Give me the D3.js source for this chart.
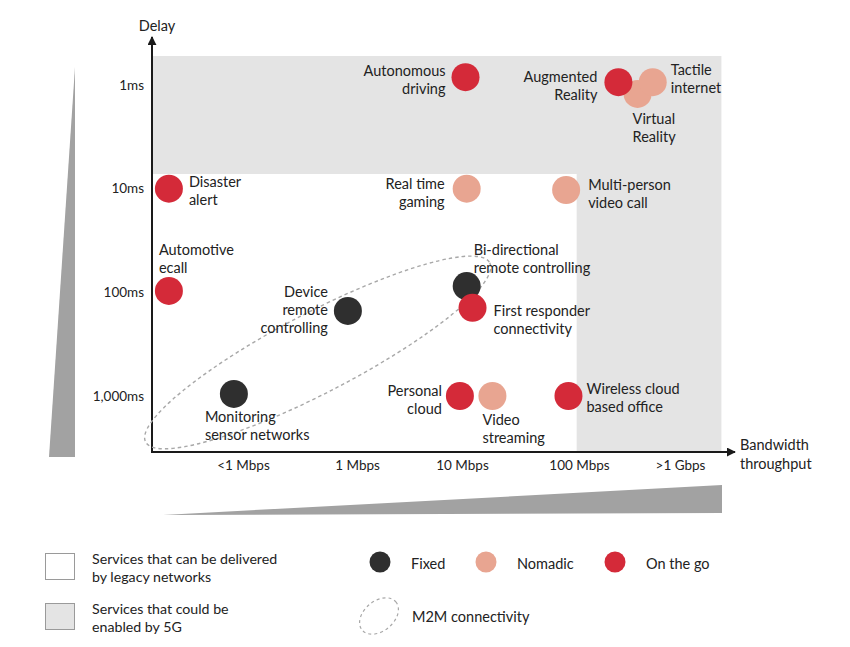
<!DOCTYPE html>
<html>
<head>
<meta charset="utf-8">
<script src="https://cdn.jsdelivr.net/npm/d3@7"></script>
<style>
  html, body { margin: 0; padding: 0; background: #ffffff; }
  svg { display: block; }
  text { font-family: Lato, "Open Sans", sans-serif; fill: #222222; }
</style>
</head>
<body>
<svg id="chart" width="850" height="647"></svg>
<script>
// ---------- DATA ----------
const services = [
  "Disaster alert", "Automotive ecall", "Autonomous driving",
  "Virtual Reality", "Tactile internet", "Augmented Reality",
  "Real time gaming", "Multi-person video call",
  "Device remote controlling", "Bi-directional remote controlling",
  "First responder connectivity", "Monitoring sensor networks",
  "Personal cloud", "Video streaming", "Wireless cloud based office"
];
// bandwidth position on the category axis (0 = <1 Mbps ... 4 = >1 Gbps)
const bandwidth = [-0.65, -0.65, 2.03, 3.58, 3.73, 3.39, 2.04, 2.89, 0.92, 2.04, 2.09, -0.08, 1.98, 2.26, 2.91];
// delay in ms
const delayMs = [10, 97, 0.84, 1.22, 0.94, 0.94, 10, 10.3, 151, 87, 141, 955, 1000, 1000, 1000];
const mobility = [
  "On the go", "On the go", "On the go",
  "Nomadic", "Nomadic", "On the go",
  "Nomadic", "Nomadic",
  "Fixed", "Fixed",
  "On the go", "Fixed",
  "On the go", "Nomadic", "On the go"
];
const bandwidthTicks = ["<1 Mbps", "1 Mbps", "10 Mbps", "100 Mbps", ">1 Gbps"];
const delayTicks = [1, 10, 100, 1000];
const mobilityTypes = ["Fixed", "Nomadic", "On the go"];
const regionLegend = ["Services that can be delivered|by legacy networks", "Services that could be|enabled by 5G"];
// 5G-enabled zone (in data units)
const zone5G = { delayBelow: 7.2, delayTop: 0.525, bandwidthAbove: 2.98, bandwidthRight: 4.41 };
// M2M group centre (data units)
const m2mCentre = { bandwidth: 0.655, delay: 380 };

// ---------- LAYOUT / STYLE ----------
const colors = { "Fixed": "#2f2f2f", "Nomadic": "#e8a591", "On the go": "#d42a39" };
const labelLayout = {
  "Disaster alert": { lines: ["Disaster", "alert"], anchor: "start", dx: 20, dy: -7 },
  "Automotive ecall": { lines: ["Automotive", "ecall"], anchor: "start", dx: -10, dy: -41 },
  "Autonomous driving": { lines: ["Autonomous", "driving"], anchor: "end", dx: -20, dy: -7 },
  "Augmented Reality": { lines: ["Augmented", "Reality"], anchor: "end", dx: -21, dy: -6 },
  "Tactile internet": { lines: ["Tactile", "internet"], anchor: "start", dx: 18, dy: -13 },
  "Virtual Reality": { lines: ["Virtual", "Reality"], anchor: "start", dx: -5, dy: 25 },
  "Real time gaming": { lines: ["Real time", "gaming"], anchor: "end", dx: -22, dy: -5 },
  "Multi-person video call": { lines: ["Multi-person", "video call"], anchor: "start", dx: 22, dy: -5 },
  "Device remote controlling": { lines: ["Device", "remote", "controlling"], anchor: "end", dx: -20, dy: -19 },
  "Bi-directional remote controlling": { lines: ["Bi-directional", "remote controlling"], anchor: "start", dx: 7, dy: -37 },
  "First responder connectivity": { lines: ["First responder", "connectivity"], anchor: "start", dx: 21, dy: 3 },
  "Monitoring sensor networks": { lines: ["Monitoring", "sensor networks"], anchor: "start", dx: -29, dy: 23 },
  "Personal cloud": { lines: ["Personal", "cloud"], anchor: "end", dx: -18, dy: -6 },
  "Video streaming": { lines: ["Video", "streaming"], anchor: "start", dx: -10, dy: 23 },
  "Wireless cloud based office": { lines: ["Wireless cloud", "based office"], anchor: "start", dx: 18, dy: -8 }
};
const lineH = 18;
const axisX = 152, axisY = 452;

const svg = d3.select("#chart");

const x = d3.scaleLinear().domain([0, 1, 2, 3, 4]).range([243, 357, 462, 579, 680]);
const y = d3.scaleLog().domain([1, 1000]).range([85, 396]);

// ---------- 5G zone ----------
const zoneTop = y(zone5G.delayTop), zoneMid = y(zone5G.delayBelow);
const zL = axisX + 1, zR = x(zone5G.bandwidthRight), zX = x(zone5G.bandwidthAbove);
svg.append("path")
  .attr("d", `M${zL},${zoneTop}H${zR}V${axisY - 1}H${zX}V${zoneMid}H${zL}Z`)
  .attr("fill", "#e4e4e4");

// ---------- wedges ----------
svg.append("path").attr("d", "M75,67L75,457L49,457Z").attr("fill", "#a2a2a2");
svg.append("path").attr("d", "M163,515L722,485L722,513Z").attr("fill", "#a2a2a2");

// ---------- axes ----------
const defs = svg.append("defs");
defs.append("marker").attr("id", "arrow").attr("viewBox", "0 0 10 10")
  .attr("refX", 9).attr("refY", 5).attr("markerWidth", 9).attr("markerHeight", 9)
  .attr("markerUnits", "userSpaceOnUse").attr("orient", "auto")
  .append("path").attr("d", "M0,0L10,5L0,10Z").attr("fill", "#1a1a1a");

svg.append("line").attr("x1", axisX).attr("y1", axisY).attr("x2", axisX).attr("y2", 37)
  .attr("stroke", "#1a1a1a").attr("stroke-width", 2).attr("marker-end", "url(#arrow)");
svg.append("line").attr("x1", axisX - 1).attr("y1", axisY).attr("x2", 735).attr("y2", axisY)
  .attr("stroke", "#1a1a1a").attr("stroke-width", 2).attr("marker-end", "url(#arrow)");

const yAxis = d3.axisLeft(y).tickValues(delayTicks).tickSize(0).tickPadding(8)
  .tickFormat(d => d3.format(",")(d) + "ms");
const gy = svg.append("g").attr("transform", `translate(${axisX},0)`).call(yAxis);
gy.select(".domain").remove();
gy.selectAll("text").style("font-family", "Lato, sans-serif").style("font-size", "13.5px").attr("fill", "#222222");

const xAxis = d3.axisBottom(x).tickValues(d3.range(bandwidthTicks.length)).tickSize(0).tickPadding(8)
  .tickFormat(i => bandwidthTicks[i]);
const gx = svg.append("g").attr("transform", `translate(0,${axisY})`).call(xAxis);
gx.select(".domain").remove();
gx.selectAll("text").style("font-family", "Lato, sans-serif").style("font-size", "13.5px").attr("fill", "#222222");

svg.append("text").attr("x", 157).attr("y", 25).attr("text-anchor", "middle")
  .attr("dominant-baseline", "central").style("font-size", "14.5px").text("Delay");
const bwLabel = svg.append("text").style("font-size", "14.5px");
bwLabel.append("tspan").attr("x", 740).attr("y", 444).attr("dominant-baseline", "central").text("Bandwidth");
bwLabel.append("tspan").attr("x", 740).attr("y", 463).attr("dominant-baseline", "central").text("throughput");

// ---------- M2M ellipse ----------
svg.append("ellipse")
  .attr("cx", 0).attr("cy", 0).attr("rx", 194).attr("ry", 40)
  .attr("transform", `translate(${x(m2mCentre.bandwidth)},${y(m2mCentre.delay)}) rotate(-27.5)`)
  .attr("fill", "none").attr("stroke", "#a8a8a8").attr("stroke-width", 1.4)
  .attr("stroke-dasharray", "3.5,3");

// ---------- points ----------
const pts = services.map((s, i) => ({ name: s, bw: bandwidth[i], d: delayMs[i], m: mobility[i] }));
svg.append("g").selectAll("circle").data(pts).join("circle")
  .attr("cx", d => x(d.bw)).attr("cy", d => y(d.d)).attr("r", 14)
  .attr("fill", d => colors[d.m]);

// ---------- labels ----------
const lg = svg.append("g");
pts.forEach(p => {
  const L = labelLayout[p.name];
  const t = lg.append("text").attr("text-anchor", L.anchor).style("font-size", "14.5px");
  L.lines.forEach((ln, k) => {
    t.append("tspan").attr("x", x(p.bw) + L.dx).attr("y", y(p.d) + L.dy + k * lineH)
      .attr("dominant-baseline", "central").text(ln);
  });
});

// ---------- legend ----------
const regionFill = ["#ffffff", "#e4e4e4"];
regionLegend.forEach((txt, i) => {
  const top = 553 + i * 50;
  svg.append("rect").attr("x", 45.5).attr("y", top + 0.5).attr("width", 29).attr("height", 26)
    .attr("fill", regionFill[i]).attr("stroke", "#9a9a9a").attr("stroke-width", 1);
  const t = svg.append("text").style("font-size", "14.2px");
  txt.split("|").forEach((ln, k) => {
    t.append("tspan").attr("x", 92).attr("y", top + 5 + k * 18).attr("dominant-baseline", "central").text(ln);
  });
});

const legendX = [380, 486, 615];
mobilityTypes.forEach((m, i) => {
  svg.append("circle").attr("cx", legendX[i]).attr("cy", 562).attr("r", 10.5).attr("fill", colors[m]);
  svg.append("text").attr("x", legendX[i] + 31).attr("y", 563).attr("dominant-baseline", "central")
    .style("font-size", "14.5px").text(m);
});
svg.append("ellipse").attr("cx", 0).attr("cy", 0).attr("rx", 22).attr("ry", 15)
  .attr("transform", "translate(379,616) rotate(-40)")
  .attr("fill", "none").attr("stroke", "#a8a8a8").attr("stroke-width", 1.2).attr("stroke-dasharray", "3,3");
svg.append("text").attr("x", 412).attr("y", 616).attr("dominant-baseline", "central")
  .style("font-size", "14.5px").text("M2M connectivity");
</script>
</body>
</html>
